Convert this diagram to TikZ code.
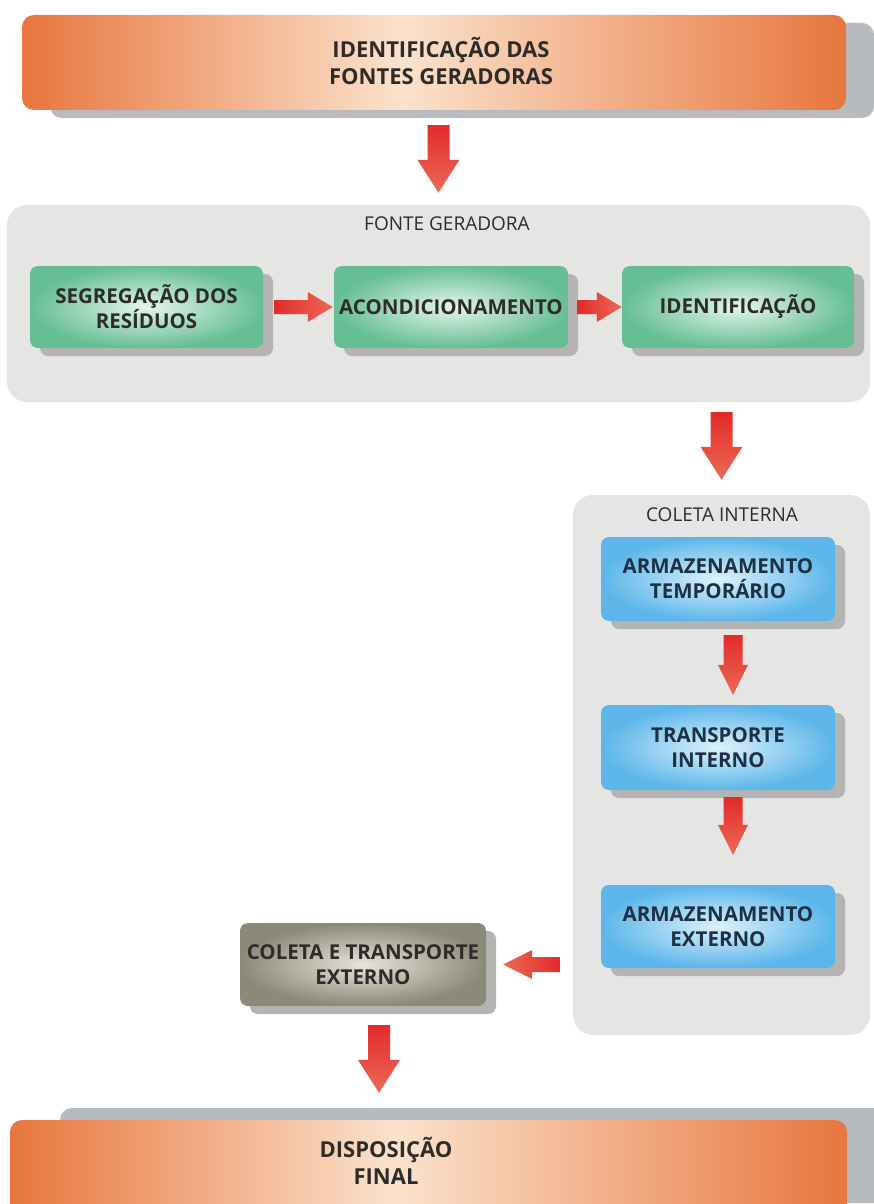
\documentclass[tikz,border=0pt]{standalone}
\usepackage{fontspec}
\setmainfont{Open Sans}
\usetikzlibrary{calc,shadows}

\definecolor{barorange}{HTML}{E8763E}
\definecolor{barpale}{HTML}{FBE2CC}
\definecolor{barshadow}{HTML}{B7BBBF}
\definecolor{panelgray}{HTML}{E5E5E3}
\definecolor{boxshadow}{HTML}{B4B4B2}
\definecolor{greenedge}{HTML}{66BE94}
\definecolor{greenpale}{HTML}{E4F5EC}
\definecolor{blueedge}{HTML}{5CB6EA}
\definecolor{bluepale}{HTML}{DDF1FC}
\definecolor{khakiedge}{HTML}{8B8A78}
\definecolor{khakipale}{HTML}{E6E4DA}
\definecolor{arrowred}{HTML}{E22A2A}
\definecolor{arrowpale}{HTML}{FBDCD0}
\definecolor{arrowtip}{HTML}{EC6A56}
\definecolor{darktext}{HTML}{2E2C2A}
\definecolor{navytext}{HTML}{1E3044}

\pgfdeclarehorizontalshading{barshade}{100bp}{color(0bp)=(barorange); color(25bp)=(barorange);
  color(48bp)=(barpale); color(75bp)=(barorange); color(100bp)=(barorange)}

% block arrow from #2 to #3, gaps #4 and #5, sizes from \aw, \aW, \ah
\newcommand{\blkarrow}[5][0]{%
  \coordinate (ba) at ($(#2)!#4!(#3)$);
  \coordinate (bb) at ($(#3)!#5!(#2)$);
  \coordinate (bh) at ($(bb)!\ah!(ba)$);
  \path[arrowshade,shading angle=#1]
    ($(ba)!\aw!90:(bb)$) -- ($(bh)!\aw!90:(bb)$) -- ($(bh)!\aW!90:(bb)$) -- (bb)
    -- ($(bh)!\aW!-90:(bb)$) -- ($(bh)!\aw!-90:(bb)$) -- ($(ba)!\aw!-90:(bb)$) -- cycle;}

\tikzset{
  arrowshade/.style={top color=arrowred,middle color=arrowpale,bottom color=arrowtip},
  bar/.style={rounded corners=12pt,shade,shading=barshade,minimum height=95pt,inner sep=0pt},
  bartext/.style={align=center,text=darktext,font=\bfseries\fontsize{22}{27}\selectfont},
  panel/.style={rounded corners=20pt,fill=panelgray,inner sep=0pt},
  paneltext/.style={text=darktext,font=\fontsize{19}{22}\selectfont},
  stepshadow/.style={general shadow={shadow xshift=10pt,shadow yshift=-8pt,fill=boxshadow}},
  stepbox/.style={rounded corners=8pt,inner sep=0pt,align=center,stepshadow,
    font=\bfseries\fontsize{20.5}{25}\selectfont},
  greenbox/.style={stepbox,inner color=greenpale,outer color=greenedge,text=darktext,
    minimum width=233pt,minimum height=82pt},
  bluebox/.style={stepbox,inner color=bluepale,outer color=blueedge,text=navytext,
    minimum width=234pt,minimum height=84pt},
  khakibox/.style={stepbox,inner color=khakipale,outer color=khakiedge,text=darktext,
    minimum width=246pt,minimum height=83pt},
}

\begin{document}
\begin{tikzpicture}[x=1pt,y=-1pt]
\useasboundingbox (0,0) rectangle (874,1204);

% top and bottom bars
\node[bar,minimum width=824pt,general shadow={shadow xshift=28pt,shadow yshift=-8pt,fill=barshadow}]
  (idbar) at (434,62.5) {};
\node[bartext] (idfontes) at (441,61) {IDENTIFICAÇÃO DAS\\FONTES GERADORAS};
\node[bar,minimum width=837pt,general shadow={shadow xshift=50pt,shadow yshift=12pt,fill=barshadow}]
  (finalbar) at (428.5,1167.5) {};
\node[bartext] (dispfinal) at (386,1161) {DISPOSIÇÃO\\FINAL};

% fonte geradora
\node[panel,minimum width=863pt,minimum height=197pt] (fonte) at (438.5,303.5) {};
\node[paneltext] (fontelbl) at (447,224) {FONTE GERADORA};
\node[greenbox] (segreg) at (146.5,307) {SEGREGAÇÃO DOS\\RESÍDUOS};
\node[greenbox,minimum width=234pt] (acond) at (451,307) {ACONDICIONAMENTO};
\node[greenbox,minimum width=232pt] (ident) at (738,307) {IDENTIFICAÇÃO};

% coleta interna
\node[panel,minimum width=297pt,minimum height=540pt] (coleta) at (721.5,765) {};
\node[paneltext] (coletalbl) at (722,515) {COLETA INTERNA};
\node[bluebox] (armtemp) at (718,579) {ARMAZENAMENTO\\TEMPORÁRIO};
\node[bluebox,minimum height=85pt] (transp) at (718,747.5) {TRANSPORTE\\INTERNO};
\node[bluebox,minimum height=83pt] (armext) at (718,926.5) {ARMAZENAMENTO\\EXTERNO};

\node[khakibox] (coltransp) at (363,964.5) {COLETA E TRANSPORTE\\EXTERNO};

% arrows
\def\aw{11pt}\def\aW{21pt}\def\ah{33pt}
\blkarrow{idbar.south -| fonte.north}{fonte.north}{15pt}{12pt}
\blkarrow{fonte.south -| coleta.north}{coleta.north}{10pt}{15pt}
\coordinate (c1) at ([xshift=16pt]coltransp.south);
\blkarrow{c1}{c1 |- finalbar.north}{19pt}{27pt}
\def\aw{9.5pt}\def\aW{15pt}\def\ah{30pt}
\coordinate (c2) at ([xshift=15pt]armtemp.south);
\blkarrow{c2}{c2 |- transp.north}{14pt}{10pt}
\coordinate (c3) at ([xshift=15pt]transp.south);
\blkarrow{c3}{c3 |- armext.north}{7pt}{30pt}
\def\aw{7pt}\def\aW{15pt}\def\ah{25pt}
\blkarrow[90]{segreg.east}{acond.west}{11pt}{1pt}
\blkarrow[90]{acond.east}{ident.west}{9pt}{0pt}
\def\aw{7.5pt}\def\aW{14.5pt}\def\ah{29pt}
\blkarrow[-90]{coleta.west |- coltransp.east}{coltransp.east}{13pt}{17pt}
\end{tikzpicture}
\end{document}
